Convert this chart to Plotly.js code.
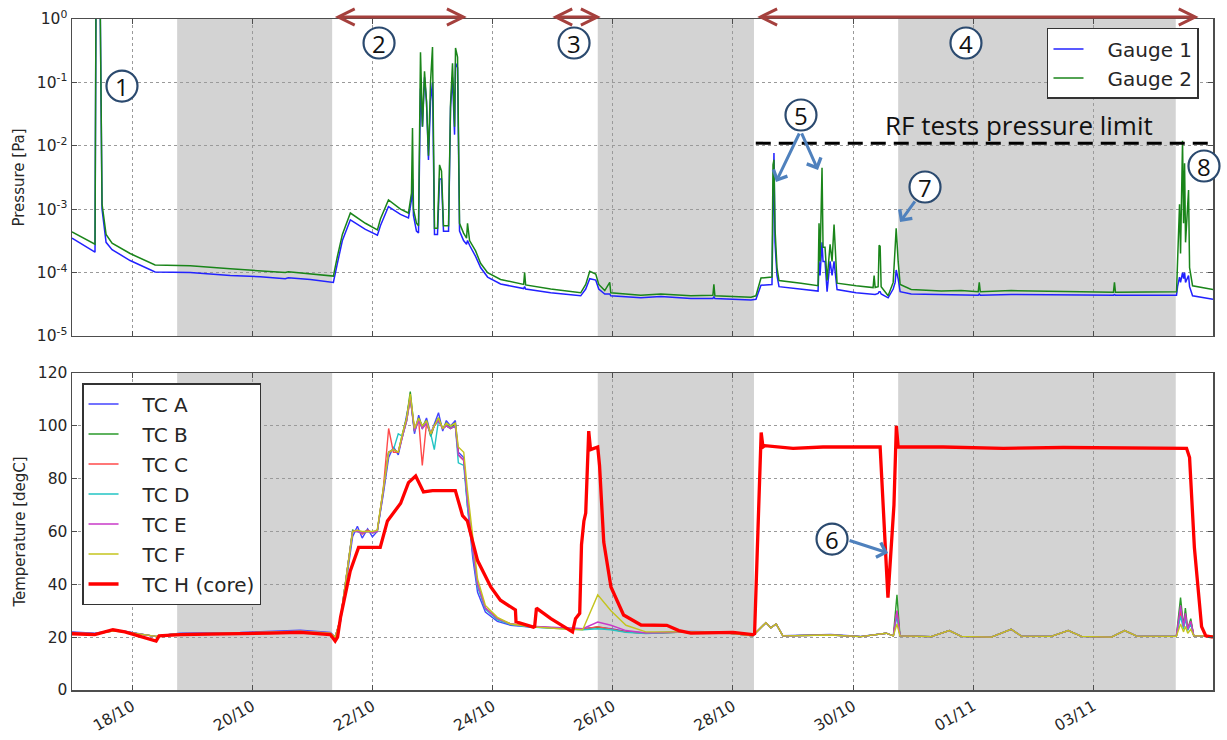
<!DOCTYPE html>
<html><head><meta charset="utf-8">
<script src="https://cdn.plot.ly/plotly-3.0.1.min.js"></script>
<style>html,body{margin:0;padding:0;background:#fff}#chart{width:1227px;height:740px}</style>
</head><body><div id="chart"></div>
<script>
// ---------- time base (days since 17/10 00:00) ----------
const startDate = Date.UTC(2015, 9, 17);
const DAY = 86400000;
const xRangeDays = [0, 18.99];

// ---------- pressure (Pa) ----------
const gaugeTime = [0, 0.383, 0.40, 0.467, 0.50, 0.567, 0.667, 0.967, 1.383, 1.967, 2.633, 3.133, 3.55, 3.60, 3.967, 4.35, 4.417, 4.50, 4.633, 4.883, 5.083, 5.133, 5.267, 5.467, 5.60, 5.65, 5.667, 5.683, 5.733, 5.767, 5.80, 5.833, 5.867, 5.90, 5.933, 5.967, 6.00, 6.033, 6.083, 6.117, 6.15, 6.183, 6.267, 6.30, 6.333, 6.367, 6.383, 6.417, 6.45, 6.517, 6.567, 6.583, 6.617, 6.717, 6.80, 6.917, 7.133, 7.417, 7.517, 7.533, 7.55, 7.967, 8.467, 8.55, 8.617, 8.717, 8.767, 8.867, 8.95, 8.967, 9.467, 9.80, 10.30, 10.667, 10.683, 10.70, 11.30, 11.383, 11.467, 11.65, 11.667, 11.683, 11.70, 11.733, 11.767, 12.133, 12.417, 12.433, 12.45, 12.483, 12.50, 12.533, 12.567, 12.617, 12.65, 12.683, 12.733, 13.05, 13.333, 13.35, 13.367, 13.417, 13.433, 13.45, 13.467, 13.583, 13.667, 13.70, 13.717, 13.75, 13.783, 13.967, 14.467, 14.80, 15.083, 15.10, 15.117, 15.633, 16.467, 17.333, 17.35, 17.367, 18.383, 18.40, 18.433, 18.45, 18.483, 18.50, 18.517, 18.533, 18.583, 18.60, 18.65, 18.99];
const gauge1 = [3.5e-4, 2.1e-4, 3, 3, 1.0e-3, 3e-4, 2.3e-4, 1.55e-4, 1.02e-4, 1.0e-4, 9.0e-5, 8.6e-5, 8.0e-5, 8.3e-5, 7.8e-5, 7.0e-5, 1.4e-4, 3.2e-4, 6.8e-4, 4.8e-4, 3.9e-4, 5.5e-4, 1.1e-3, 8.3e-4, 7.3e-4, 1.4e-3, 3e-3, 8e-4, 4.5e-4, 4.2e-4, 0.08, 0.02, 0.12, 0.05, 0.006, 0.05, 0.1, 4e-4, 4e-4, 3e-3, 3e-3, 4.5e-4, 4.5e-4, 0.04, 0.12, 0.015, 0.2, 0.17, 4.5e-4, 3.2e-4, 2.8e-4, 3.2e-4, 2.7e-4, 1.8e-4, 1.2e-4, 8.5e-5, 6.6e-5, 5.8e-5, 5.6e-5, 6e-5, 5.5e-5, 4.8e-5, 4.3e-5, 5.5e-5, 8.0e-5, 7.6e-5, 5.5e-5, 4.6e-5, 4.6e-5, 4.3e-5, 4.0e-5, 4.2e-5, 3.9e-5, 3.9e-5, 4.2e-5, 3.9e-5, 3.7e-5, 3.8e-5, 6.3e-5, 6.5e-5, 3e-3, 7.7e-3, 3e-4, 9e-5, 6e-5, 5.5e-5, 5.1e-5, 1.5e-4, 9e-5, 3e-4, 1.5e-4, 1.5e-4, 5e-5, 1.5e-4, 9e-5, 1.5e-4, 5.4e-5, 4.8e-5, 4.5e-5, 4.6e-5, 4.5e-5, 4.7e-5, 5e-5, 5e-5, 4.6e-5, 4.0e-5, 5.5e-5, 7e-5, 1.1e-4, 8e-5, 5e-5, 4.6e-5, 4.5e-5, 4.5e-5, 4.4e-5, 4.6e-5, 4.4e-5, 4.5e-5, 4.4e-5, 4.4e-5, 4.5e-5, 4.4e-5, 4.4e-5, 6e-5, 8.5e-5, 7e-5, 1e-4, 8e-5, 1e-4, 7e-5, 9e-5, 6e-5, 4.3e-5, 3.8e-5];
const gauge2 = [4.4e-4, 2.8e-4, 3, 3, 1.2e-3, 4e-4, 2.9e-4, 2.0e-4, 1.32e-4, 1.28e-4, 1.15e-4, 1.05e-4, 1.0e-4, 1.03e-4, 9.5e-5, 8.8e-5, 1.8e-4, 4e-4, 8.7e-4, 6.0e-4, 4.7e-4, 7e-4, 1.4e-3, 1.0e-3, 8.7e-4, 1.8e-3, 1.9e-2, 1.0e-3, 6.0e-4, 5.5e-4, 0.3, 0.02, 0.15, 0.05, 0.007, 0.1, 0.36, 5e-4, 5e-4, 5e-3, 4e-3, 5.5e-4, 5.5e-4, 0.045, 0.2, 0.02, 0.35, 0.25, 6e-4, 4.2e-4, 3.5e-4, 6e-4, 3.2e-4, 2.2e-4, 1.4e-4, 1.0e-4, 7.8e-5, 6.8e-5, 6.5e-5, 1.0e-4, 6.4e-5, 5.5e-5, 4.8e-5, 6.5e-5, 1.05e-4, 9.5e-5, 6.5e-5, 5.2e-5, 7e-5, 4.8e-5, 4.4e-5, 4.6e-5, 4.3e-5, 4.4e-5, 6.5e-5, 4.3e-5, 4.1e-5, 4.3e-5, 8.2e-5, 8.5e-5, 5e-3, 6e-3, 5e-4, 1.2e-4, 7.5e-5, 6.8e-5, 6.2e-5, 6e-4, 1.5e-4, 4.5e-3, 2.5e-4, 2.5e-4, 7.5e-5, 2.8e-4, 1.5e-4, 5.7e-4, 6.8e-5, 6.2e-5, 5.8e-5, 9e-5, 5.8e-5, 6e-5, 2.7e-4, 2.6e-4, 6e-5, 4.3e-5, 7e-5, 2.5e-4, 5e-4, 1.5e-4, 6.5e-5, 5.4e-5, 5.1e-5, 5.2e-5, 5e-5, 7e-5, 5e-5, 5.2e-5, 5.0e-5, 4.9e-5, 7e-5, 4.9e-5, 5e-5, 1.6e-4, 1.2e-3, 2e-4, 0.012, 6e-4, 5.3e-3, 3e-4, 2e-3, 1.2e-4, 6.2e-5, 5.4e-5];
const rfLimitPa = 0.011;
const rfLimitSpan = [11.38, 18.92];

// ---------- temperatures (degC) ----------
const tcTime = [0, 0.38, 0.68, 0.88, 1.40, 1.55, 1.80, 2.80, 3.80, 4.30, 4.38, 4.47, 4.67, 4.75, 4.83, 4.92, 5.00, 5.08, 5.18, 5.27, 5.35, 5.43, 5.50, 5.57, 5.63, 5.70, 5.77, 5.83, 5.90, 5.97, 6.03, 6.10, 6.17, 6.23, 6.30, 6.38, 6.43, 6.52, 6.58, 6.67, 6.75, 6.88, 7.08, 7.30, 7.63, 8.13, 8.50, 8.75, 8.97, 9.22, 9.55, 10.30, 10.80, 11.33, 11.55, 11.63, 11.72, 11.83, 12.63, 13.13, 13.55, 13.67, 13.73, 13.78, 14.30, 14.60, 14.80, 15.30, 15.63, 15.80, 16.30, 16.58, 16.80, 17.30, 17.52, 17.72, 18.38, 18.45, 18.50, 18.53, 18.57, 18.62, 18.67, 18.99];
const tcA = [22.0, 21.5, 22.5, 22.3, 20.2, 20.8, 21.5, 21.8, 22.6, 21.8, 20.0, 26, 58, 62, 57.5, 61, 58, 60, 74, 88, 92, 89, 96, 104, 111, 97, 104, 99, 103, 97, 101, 105, 98, 102, 100, 102, 90, 88, 70, 50, 37, 29.5, 26, 24.5, 23.8, 23.5, 23.2, 23.8, 23.2, 22.2, 21.6, 22.2, 22.0, 20.5, 25.5, 23.5, 25.0, 20.6, 21.0, 20.3, 21.5, 20.5, 30, 20.5, 20.2, 22.5, 20.3, 20.0, 23.0, 20.4, 20.3, 22.5, 20.3, 20.0, 22.5, 20.4, 20.3, 30, 24, 28, 23, 26, 20.5, 20.5];
const tcB = [21.5, 21.2, 22.3, 22.0, 20.3, 20.8, 21.2, 21.5, 22.2, 21.5, 20.0, 27, 60.5, 60, 59.5, 60.5, 59.5, 60, 76, 90, 91, 90, 97, 103, 113, 98, 103, 100, 102, 96, 100, 103, 99, 101, 99, 101, 89, 87, 72, 53, 40, 31, 27, 25, 24, 23.5, 23, 23.8, 23, 22, 21.5, 22, 21.8, 20.5, 25.5, 23.5, 25.0, 20.5, 20.8, 20.2, 21.5, 20.5, 36, 20.5, 20.2, 22.5, 20.3, 20.0, 23.0, 20.4, 20.3, 22.5, 20.3, 20.0, 22.5, 20.4, 20.3, 35, 24, 31, 23, 27, 20.5, 20.5];
const tcC = [21.8, 21.3, 22.4, 22.1, 20.2, 20.8, 21.3, 21.6, 22.3, 21.6, 20.0, 27, 60, 60.5, 59, 60.5, 59.5, 60, 76, 99, 90, 90, 96, 102, 110, 99, 102, 85, 101, 97, 100, 102, 99, 100, 99, 100, 89, 87, 72, 53, 40, 31, 27, 25, 24, 23.5, 23, 24, 23, 22, 21.5, 22, 21.8, 20.5, 25.5, 23.5, 25.0, 20.5, 20.8, 20.2, 21.5, 20.5, 30, 20.5, 20.2, 22.5, 20.3, 20.0, 23.0, 20.4, 20.3, 22.5, 20.3, 20.0, 22.5, 20.4, 20.3, 30, 24, 28, 23, 26, 20.5, 20.5];
const tcD = [21.8, 21.3, 22.4, 22.1, 20.2, 20.8, 21.3, 21.6, 22.3, 21.6, 20.0, 27, 60, 60, 59.5, 60, 59.5, 60, 75, 90, 91, 97, 96, 102, 111, 98, 102, 99, 101, 97, 91, 102, 99, 100, 99, 100, 86, 85, 70, 52, 39, 30.5, 26.5, 24.8, 23.8, 23.3, 22.8, 23.2, 22.8, 21.8, 21.4, 22, 21.8, 20.5, 25.5, 23.5, 25.0, 20.5, 20.8, 20.2, 21.5, 20.5, 28, 20.5, 20.2, 22.5, 20.3, 20.0, 23.0, 20.4, 20.3, 22.5, 20.3, 20.0, 22.5, 20.4, 20.3, 28, 23, 27, 22.5, 25, 20.5, 20.5];
const tcE = [21.8, 21.3, 22.4, 22.1, 20.2, 20.8, 21.3, 21.6, 22.3, 21.6, 20.0, 27, 60, 60, 59.5, 60, 59.5, 60, 75, 90, 91, 90, 96, 102, 111, 98, 102, 99, 101, 97, 100, 102, 99, 100, 99, 100, 89, 87, 72, 53, 40, 31, 27, 25, 24.2, 23.5, 23.2, 25.7, 24.5, 22.5, 21.6, 22, 21.8, 20.5, 25.5, 23.5, 25.0, 20.5, 20.8, 20.2, 21.5, 20.5, 30, 20.5, 20.2, 22.5, 20.3, 20.0, 23.0, 20.4, 20.3, 22.5, 20.3, 20.0, 22.5, 20.4, 20.3, 32, 24, 29, 23, 26, 20.5, 20.5];
const tcF = [21.5, 21.2, 22.3, 22.0, 20.3, 20.8, 21.2, 21.5, 22.2, 21.5, 20.0, 27, 60, 60.5, 60, 60, 60, 60.5, 76, 90, 91, 90, 97, 103, 112, 99, 103, 100, 102, 97, 100, 103, 99, 101, 100, 101, 92, 90, 76, 57, 42, 32, 27.5, 25, 24, 23.2, 22.8, 36, 30, 24.5, 22, 22, 21.8, 20.5, 25.5, 23.5, 25.0, 20.5, 20.8, 20.2, 21.5, 20.5, 25, 20.5, 20.2, 22.5, 20.3, 20.0, 23.0, 20.4, 20.3, 22.5, 20.3, 20.0, 22.5, 20.4, 20.3, 25, 22, 24, 21.5, 23, 20.5, 20.5];
const tcHTime = [0, 0.38, 0.68, 0.88, 1.40, 1.45, 1.80, 2.80, 3.30, 3.80, 4.30, 4.38, 4.42, 4.47, 4.63, 4.77, 5.13, 5.25, 5.47, 5.60, 5.72, 5.85, 6.00, 6.38, 6.50, 6.58, 6.75, 6.97, 7.13, 7.38, 7.39, 7.68, 7.70, 7.73, 7.97, 8.33, 8.38, 8.45, 8.48, 8.52, 8.55, 8.60, 8.63, 8.75, 8.78, 8.85, 8.97, 9.18, 9.47, 9.90, 10.10, 10.30, 11.00, 11.33, 11.36, 11.47, 11.50, 11.53, 12.00, 12.50, 13.00, 13.45, 13.58, 13.68, 13.72, 13.75, 14.50, 15.50, 16.50, 17.50, 18.55, 18.60, 18.68, 18.80, 18.87, 18.99];
const tcH = [21.3, 21.0, 22.8, 22.0, 18.5, 20.5, 21.0, 21.2, 21.5, 21.8, 21.0, 18.5, 20.0, 27.6, 45, 54, 54, 64, 70.7, 78.5, 81, 75, 75.5, 75.5, 66, 64, 49, 39, 34, 30.3, 25.8, 23.8, 24, 31, 27, 22, 27, 29, 55, 64, 67, 98, 91, 92, 85, 56, 39, 28.4, 24.6, 24.5, 22.5, 21.5, 21.8, 21.0, 21.3, 97.5, 92, 92.5, 91.5, 92, 92, 92, 35, 70, 100, 92, 92, 91.5, 91.8, 91.8, 91.5, 88, 54, 24, 20.5, 20.0];

// ---------- shaded periods, tick labels ----------
const shadeSpans = [[1.75, 4.33], [8.75, 11.35], [13.75, 18.37]];
const pressureTickVals = [1e-5, 1e-4, 1e-3, 1e-2, 1e-1, 1];
const pressureTickText = ['10<sup>-5</sup>', '10<sup>-4</sup>', '10<sup>-3</sup>', '10<sup>-2</sup>', '10<sup>-1</sup>', '10<sup>0</sup>'];
const phaseArrows = [[4.35, 6.57], [7.97, 8.80], [11.38, 18.75]];

const toMs = d => startDate + d * DAY;
const FONT = 'DejaVu Sans, sans-serif';
const ANN_FONT = 'Open Sans, sans-serif';
const pad = s => '\u00a0\u00a0\u00a0' + s;

const traces = [];
traces.push({x: gaugeTime.map(toMs), y: gauge1, name: pad('Gauge 1'), type: 'scatter', mode: 'lines', xaxis: 'x', yaxis: 'y', legend: 'legend', legendgroup: 'g1', line: {color: '#2222ff', width: 1.5}});
traces.push({x: gaugeTime.map(toMs), y: gauge2, name: pad('Gauge 2'), type: 'scatter', mode: 'lines', xaxis: 'x', yaxis: 'y', legend: 'legend', legendgroup: 'g2', line: {color: '#1a851a', width: 1.5}});
traces.push({x: rfLimitSpan.map(toMs), y: [rfLimitPa, rfLimitPa], type: 'scatter', mode: 'lines', xaxis: 'x', yaxis: 'y', showlegend: false, line: {color: '#000', width: 3, dash: '15px,8px'}});

const tcSeries = [
  ['TC A', tcA, '#4444ff'], ['TC B', tcB, '#2a9a2a'], ['TC C', tcC, '#ff4a4a'],
  ['TC D', tcD, '#22c4c4'], ['TC E', tcE, '#c83ac8'], ['TC F', tcF, '#c4c41e']
];
tcSeries.forEach(([n, v, c], i) => traces.push({x: tcTime.map(toMs), y: v, name: pad(n), type: 'scatter', mode: 'lines', xaxis: 'x2', yaxis: 'y2', legend: 'legend2', legendgroup: 't' + i, line: {color: c, width: 1.4}}));
traces.push({x: tcHTime.map(toMs), y: tcH, name: pad('TC H (core)'), type: 'scatter', mode: 'lines', xaxis: 'x2', yaxis: 'y2', legend: 'legend2', legendgroup: 'th', line: {color: '#ff0000', width: 3.3}});

const shapes = [];
shadeSpans.forEach(([a, b]) => {
  [['x', 'y domain'], ['x2', 'y2 domain']].forEach(([xr, yr]) => shapes.push({type: 'rect', xref: xr, yref: yr, x0: toMs(a), x1: toMs(b), y0: 0, y1: 1, fillcolor: '#d3d3d3', line: {width: 0}, layer: 'below'}));
});
const circles = [['1', 0.0438, 0.9001], ['2', 0.2691, 0.9642], ['3', 0.4400, 0.9642], ['4', 0.7835, 0.9642], ['5', 0.6389, 0.8569], ['7', 0.7476, 0.7496], ['8', 0.9921, 0.7809], ['6', 0.6661, 0.2250]];
circles.forEach(([t, cx, cy]) => shapes.push({type: 'circle', xref: 'paper', yref: 'paper', xsizemode: 'pixel', ysizemode: 'pixel', xanchor: cx, yanchor: cy, x0: -15.5, x1: 15.5, y0: -15.5, y1: 15.5, line: {color: '#2b4a6f', width: 2.2}, fillcolor: '#ffffff', layer: 'above'}));

const annotations = [];
circles.forEach(([t, cx, cy]) => annotations.push({xref: 'paper', yref: 'paper', x: cx, y: cy, text: t, showarrow: false, xanchor: 'center', yanchor: 'middle', font: {family: ANN_FONT, size: 24, color: '#111'}}));
phaseArrows.forEach(([a, b]) => annotations.push({xref: 'x', yref: 'paper', x: toMs(b), y: 1.003, axref: 'x', ax: toMs(a), ayref: 'pixel', ay: 0, text: '', showarrow: true, arrowside: 'end+start', arrowhead: 5, arrowsize: 1, arrowwidth: 3.2, arrowcolor: '#a5403d'}));
const blueArrows = [[0.6170, 0.7571, 24, -50], [0.6538, 0.7750, -17, -38], [0.7257, 0.6975, 16, -22], [0.7152, 0.2042, -40, -13]];
blueArrows.forEach(([hx, hy, ax, ay]) => annotations.push({xref: 'paper', yref: 'paper', x: hx, y: hy, ax: ax, ay: ay, text: '', showarrow: true, arrowhead: 4, arrowsize: 1, arrowwidth: 3, arrowcolor: '#4f81bd'}));
annotations.push({xref: 'paper', yref: 'paper', x: 0.830, y: 0.842, text: 'RF tests pressure limit', showarrow: false, xanchor: 'center', yanchor: 'middle', font: {family: ANN_FONT, size: 26, color: '#111'}});

const axisCommon = {showline: true, linecolor: '#4d4d4d', linewidth: 1.5, mirror: 'ticks', ticks: 'inside', ticklen: 5, tickcolor: '#4d4d4d', showgrid: true, gridcolor: '#9a9a9a', griddash: 'dot', gridwidth: 1, zeroline: false, tickfont: {family: FONT, size: 15.5, color: '#262626'}};
const xCommon = Object.assign({}, axisCommon, {type: 'date', range: xRangeDays.map(toMs), tick0: toMs(1), dtick: 2 * DAY, tickformat: '%d/%m'});

const legendCommon = {xanchor: 'left', yanchor: 'top', bgcolor: '#fff', bordercolor: '#333', borderwidth: 1.5, font: {family: FONT, size: 20, color: '#262626'}, itemwidth: 30};
const layout = {
  width: 1227, height: 740,
  margin: {l: 72, r: 14, t: 19, b: 50},
  paper_bgcolor: '#fff', plot_bgcolor: '#fff',
  font: {family: FONT, color: '#262626'},
  xaxis: Object.assign({}, xCommon, {anchor: 'y', showticklabels: false}),
  xaxis2: Object.assign({}, xCommon, {anchor: 'y2', matches: 'x', tickangle: -30}),
  yaxis: Object.assign({}, axisCommon, {type: 'log', domain: [0.5276, 1], range: [-5, 0], tickvals: pressureTickVals, ticktext: pressureTickText, title: {text: 'Pressure [Pa]', font: {family: FONT, size: 15, color: '#262626'}, standoff: 8}}),
  yaxis2: Object.assign({}, axisCommon, {domain: [0, 0.4724], range: [0, 120], dtick: 20, title: {text: 'Temperature [degC]', font: {family: FONT, size: 15, color: '#262626'}, standoff: 8}}),
  legend: Object.assign({}, legendCommon, {x: 0.8545, y: 0.9866, tracegroupgap: 0}),
  legend2: Object.assign({}, legendCommon, {x: 0.0088, y: 0.4575, tracegroupgap: 1}),
  showlegend: true,
  shapes: shapes,
  annotations: annotations
};

Plotly.newPlot('chart', traces, layout, {displayModeBar: false, staticPlot: true});
</script>
</body></html>
